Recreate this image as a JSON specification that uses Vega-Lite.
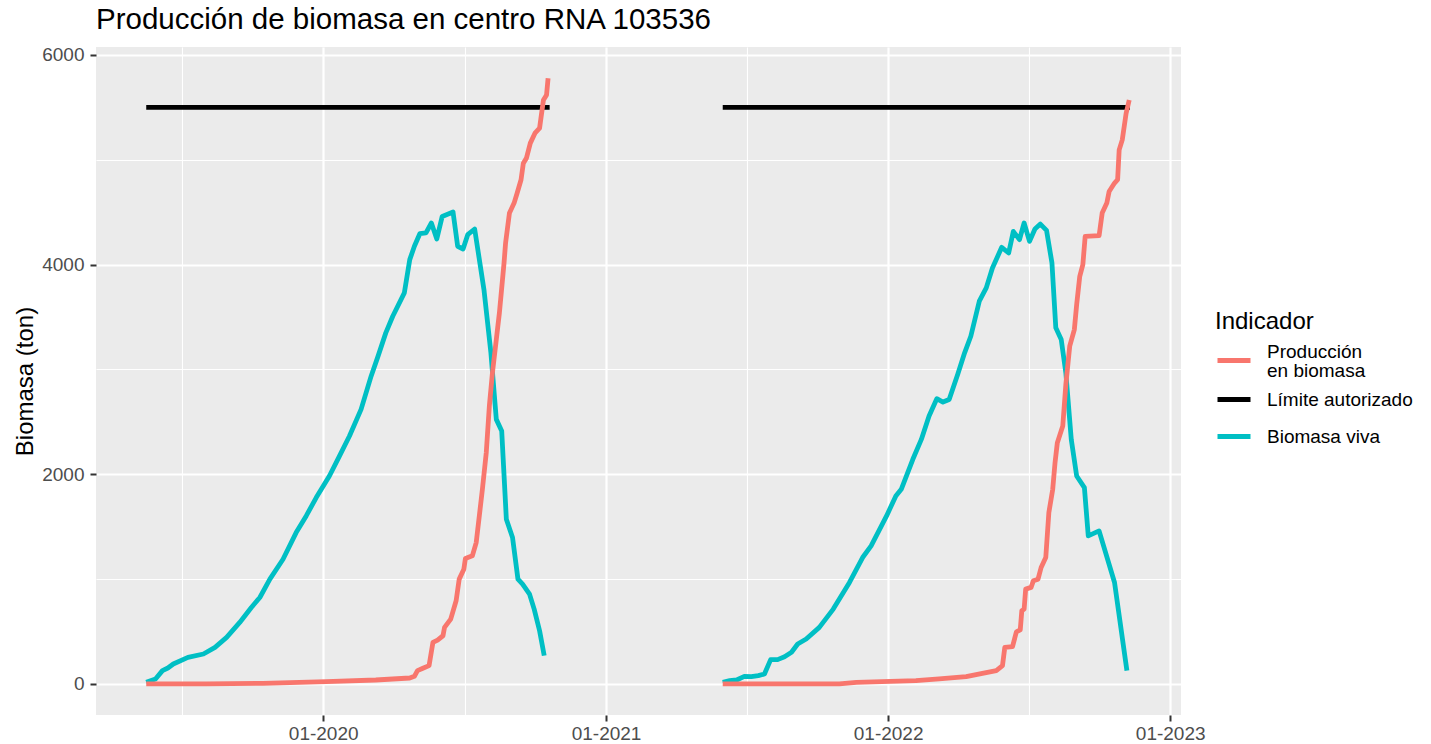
{
  "$schema": "https://vega.github.io/schema/vega-lite/v6.json",
  "width": 1085,
  "height": 668,
  "autosize": {"type": "none"},
  "padding": {"left": 96, "top": 47, "right": 250, "bottom": 29},
  "background": "white",
  "title": {"text": "Producción de biomasa en centro RNA 103536", "anchor": "start", "frame": "group", "fontSize": 29.5, "fontWeight": "normal", "color": "#000000", "font": "Liberation Sans", "offset": 10},
  "config": {"font": "Liberation Sans", "view": {"fill": "#EBEBEB", "stroke": null}},
  "data": {"values": [
    {"fecha": "2019-05-17", "valor": 5500, "indicador": "Límite autorizado", "ciclo": 1},
    {"fecha": "2020-10-20", "valor": 5500, "indicador": "Límite autorizado", "ciclo": 1},
    {"fecha": "2021-06-01", "valor": 5500, "indicador": "Límite autorizado", "ciclo": 2},
    {"fecha": "2022-11-10", "valor": 5500, "indicador": "Límite autorizado", "ciclo": 2},

    {"fecha": "2019-05-17", "valor": 16, "indicador": "Biomasa viva", "ciclo": 1},
    {"fecha": "2019-05-29", "valor": 48, "indicador": "Biomasa viva", "ciclo": 1},
    {"fecha": "2019-06-07", "valor": 127, "indicador": "Biomasa viva", "ciclo": 1},
    {"fecha": "2019-06-14", "valor": 152, "indicador": "Biomasa viva", "ciclo": 1},
    {"fecha": "2019-06-21", "valor": 190, "indicador": "Biomasa viva", "ciclo": 1},
    {"fecha": "2019-07-10", "valor": 254, "indicador": "Biomasa viva", "ciclo": 1},
    {"fecha": "2019-07-30", "valor": 286, "indicador": "Biomasa viva", "ciclo": 1},
    {"fecha": "2019-08-14", "valor": 349, "indicador": "Biomasa viva", "ciclo": 1},
    {"fecha": "2019-08-29", "valor": 444, "indicador": "Biomasa viva", "ciclo": 1},
    {"fecha": "2019-09-15", "valor": 587, "indicador": "Biomasa viva", "ciclo": 1},
    {"fecha": "2019-09-30", "valor": 730, "indicador": "Biomasa viva", "ciclo": 1},
    {"fecha": "2019-10-11", "valor": 825, "indicador": "Biomasa viva", "ciclo": 1},
    {"fecha": "2019-10-24", "valor": 1000, "indicador": "Biomasa viva", "ciclo": 1},
    {"fecha": "2019-11-10", "valor": 1190, "indicador": "Biomasa viva", "ciclo": 1},
    {"fecha": "2019-11-27", "valor": 1444, "indicador": "Biomasa viva", "ciclo": 1},
    {"fecha": "2019-12-10", "valor": 1603, "indicador": "Biomasa viva", "ciclo": 1},
    {"fecha": "2019-12-23", "valor": 1778, "indicador": "Biomasa viva", "ciclo": 1},
    {"fecha": "2020-01-09", "valor": 1984, "indicador": "Biomasa viva", "ciclo": 1},
    {"fecha": "2020-01-22", "valor": 2174, "indicador": "Biomasa viva", "ciclo": 1},
    {"fecha": "2020-02-04", "valor": 2365, "indicador": "Biomasa viva", "ciclo": 1},
    {"fecha": "2020-02-19", "valor": 2619, "indicador": "Biomasa viva", "ciclo": 1},
    {"fecha": "2020-03-03", "valor": 2936, "indicador": "Biomasa viva", "ciclo": 1},
    {"fecha": "2020-03-12", "valor": 3127, "indicador": "Biomasa viva", "ciclo": 1},
    {"fecha": "2020-03-22", "valor": 3349, "indicador": "Biomasa viva", "ciclo": 1},
    {"fecha": "2020-03-31", "valor": 3508, "indicador": "Biomasa viva", "ciclo": 1},
    {"fecha": "2020-04-15", "valor": 3730, "indicador": "Biomasa viva", "ciclo": 1},
    {"fecha": "2020-04-22", "valor": 4048, "indicador": "Biomasa viva", "ciclo": 1},
    {"fecha": "2020-04-28", "valor": 4175, "indicador": "Biomasa viva", "ciclo": 1},
    {"fecha": "2020-05-05", "valor": 4295, "indicador": "Biomasa viva", "ciclo": 1},
    {"fecha": "2020-05-13", "valor": 4302, "indicador": "Biomasa viva", "ciclo": 1},
    {"fecha": "2020-05-20", "valor": 4397, "indicador": "Biomasa viva", "ciclo": 1},
    {"fecha": "2020-05-27", "valor": 4245, "indicador": "Biomasa viva", "ciclo": 1},
    {"fecha": "2020-06-03", "valor": 4460, "indicador": "Biomasa viva", "ciclo": 1},
    {"fecha": "2020-06-17", "valor": 4502, "indicador": "Biomasa viva", "ciclo": 1},
    {"fecha": "2020-06-23", "valor": 4175, "indicador": "Biomasa viva", "ciclo": 1},
    {"fecha": "2020-06-30", "valor": 4149, "indicador": "Biomasa viva", "ciclo": 1},
    {"fecha": "2020-07-06", "valor": 4286, "indicador": "Biomasa viva", "ciclo": 1},
    {"fecha": "2020-07-15", "valor": 4340, "indicador": "Biomasa viva", "ciclo": 1},
    {"fecha": "2020-07-27", "valor": 3762, "indicador": "Biomasa viva", "ciclo": 1},
    {"fecha": "2020-08-05", "valor": 3159, "indicador": "Biomasa viva", "ciclo": 1},
    {"fecha": "2020-08-12", "valor": 2524, "indicador": "Biomasa viva", "ciclo": 1},
    {"fecha": "2020-08-19", "valor": 2413, "indicador": "Biomasa viva", "ciclo": 1},
    {"fecha": "2020-08-25", "valor": 1571, "indicador": "Biomasa viva", "ciclo": 1},
    {"fecha": "2020-09-02", "valor": 1397, "indicador": "Biomasa viva", "ciclo": 1},
    {"fecha": "2020-09-09", "valor": 1000, "indicador": "Biomasa viva", "ciclo": 1},
    {"fecha": "2020-09-15", "valor": 952, "indicador": "Biomasa viva", "ciclo": 1},
    {"fecha": "2020-09-24", "valor": 857, "indicador": "Biomasa viva", "ciclo": 1},
    {"fecha": "2020-09-30", "valor": 714, "indicador": "Biomasa viva", "ciclo": 1},
    {"fecha": "2020-10-07", "valor": 508, "indicador": "Biomasa viva", "ciclo": 1},
    {"fecha": "2020-10-13", "valor": 270, "indicador": "Biomasa viva", "ciclo": 1},

    {"fecha": "2021-06-01", "valor": 16, "indicador": "Biomasa viva", "ciclo": 2},
    {"fecha": "2021-06-10", "valor": 32, "indicador": "Biomasa viva", "ciclo": 2},
    {"fecha": "2021-06-19", "valor": 38, "indicador": "Biomasa viva", "ciclo": 2},
    {"fecha": "2021-06-29", "valor": 73, "indicador": "Biomasa viva", "ciclo": 2},
    {"fecha": "2021-07-08", "valor": 70, "indicador": "Biomasa viva", "ciclo": 2},
    {"fecha": "2021-07-17", "valor": 79, "indicador": "Biomasa viva", "ciclo": 2},
    {"fecha": "2021-07-25", "valor": 95, "indicador": "Biomasa viva", "ciclo": 2},
    {"fecha": "2021-08-02", "valor": 232, "indicador": "Biomasa viva", "ciclo": 2},
    {"fecha": "2021-08-11", "valor": 232, "indicador": "Biomasa viva", "ciclo": 2},
    {"fecha": "2021-08-20", "valor": 260, "indicador": "Biomasa viva", "ciclo": 2},
    {"fecha": "2021-08-29", "valor": 302, "indicador": "Biomasa viva", "ciclo": 2},
    {"fecha": "2021-09-06", "valor": 381, "indicador": "Biomasa viva", "ciclo": 2},
    {"fecha": "2021-09-17", "valor": 429, "indicador": "Biomasa viva", "ciclo": 2},
    {"fecha": "2021-10-04", "valor": 540, "indicador": "Biomasa viva", "ciclo": 2},
    {"fecha": "2021-10-22", "valor": 714, "indicador": "Biomasa viva", "ciclo": 2},
    {"fecha": "2021-11-12", "valor": 968, "indicador": "Biomasa viva", "ciclo": 2},
    {"fecha": "2021-11-29", "valor": 1206, "indicador": "Biomasa viva", "ciclo": 2},
    {"fecha": "2021-12-10", "valor": 1317, "indicador": "Biomasa viva", "ciclo": 2},
    {"fecha": "2021-12-30", "valor": 1603, "indicador": "Biomasa viva", "ciclo": 2},
    {"fecha": "2022-01-11", "valor": 1794, "indicador": "Biomasa viva", "ciclo": 2},
    {"fecha": "2022-01-18", "valor": 1857, "indicador": "Biomasa viva", "ciclo": 2},
    {"fecha": "2022-02-02", "valor": 2143, "indicador": "Biomasa viva", "ciclo": 2},
    {"fecha": "2022-02-13", "valor": 2333, "indicador": "Biomasa viva", "ciclo": 2},
    {"fecha": "2022-02-23", "valor": 2556, "indicador": "Biomasa viva", "ciclo": 2},
    {"fecha": "2022-03-05", "valor": 2721, "indicador": "Biomasa viva", "ciclo": 2},
    {"fecha": "2022-03-13", "valor": 2689, "indicador": "Biomasa viva", "ciclo": 2},
    {"fecha": "2022-03-21", "valor": 2714, "indicador": "Biomasa viva", "ciclo": 2},
    {"fecha": "2022-04-01", "valor": 2952, "indicador": "Biomasa viva", "ciclo": 2},
    {"fecha": "2022-04-10", "valor": 3159, "indicador": "Biomasa viva", "ciclo": 2},
    {"fecha": "2022-04-18", "valor": 3317, "indicador": "Biomasa viva", "ciclo": 2},
    {"fecha": "2022-04-29", "valor": 3651, "indicador": "Biomasa viva", "ciclo": 2},
    {"fecha": "2022-05-08", "valor": 3778, "indicador": "Biomasa viva", "ciclo": 2},
    {"fecha": "2022-05-16", "valor": 3968, "indicador": "Biomasa viva", "ciclo": 2},
    {"fecha": "2022-05-28", "valor": 4165, "indicador": "Biomasa viva", "ciclo": 2},
    {"fecha": "2022-06-06", "valor": 4111, "indicador": "Biomasa viva", "ciclo": 2},
    {"fecha": "2022-06-12", "valor": 4317, "indicador": "Biomasa viva", "ciclo": 2},
    {"fecha": "2022-06-20", "valor": 4238, "indicador": "Biomasa viva", "ciclo": 2},
    {"fecha": "2022-06-26", "valor": 4397, "indicador": "Biomasa viva", "ciclo": 2},
    {"fecha": "2022-07-03", "valor": 4222, "indicador": "Biomasa viva", "ciclo": 2},
    {"fecha": "2022-07-10", "valor": 4340, "indicador": "Biomasa viva", "ciclo": 2},
    {"fecha": "2022-07-17", "valor": 4387, "indicador": "Biomasa viva", "ciclo": 2},
    {"fecha": "2022-07-25", "valor": 4327, "indicador": "Biomasa viva", "ciclo": 2},
    {"fecha": "2022-08-01", "valor": 4016, "indicador": "Biomasa viva", "ciclo": 2},
    {"fecha": "2022-08-06", "valor": 3397, "indicador": "Biomasa viva", "ciclo": 2},
    {"fecha": "2022-08-13", "valor": 3286, "indicador": "Biomasa viva", "ciclo": 2},
    {"fecha": "2022-08-19", "valor": 2968, "indicador": "Biomasa viva", "ciclo": 2},
    {"fecha": "2022-08-26", "valor": 2333, "indicador": "Biomasa viva", "ciclo": 2},
    {"fecha": "2022-09-02", "valor": 1984, "indicador": "Biomasa viva", "ciclo": 2},
    {"fecha": "2022-09-12", "valor": 1873, "indicador": "Biomasa viva", "ciclo": 2},
    {"fecha": "2022-09-17", "valor": 1413, "indicador": "Biomasa viva", "ciclo": 2},
    {"fecha": "2022-10-01", "valor": 1460, "indicador": "Biomasa viva", "ciclo": 2},
    {"fecha": "2022-10-21", "valor": 968, "indicador": "Biomasa viva", "ciclo": 2},
    {"fecha": "2022-11-06", "valor": 127, "indicador": "Biomasa viva", "ciclo": 2},

    {"fecha": "2019-05-17", "valor": 0, "indicador": "Producción en biomasa", "ciclo": 1},
    {"fecha": "2019-08-03", "valor": 0, "indicador": "Producción en biomasa", "ciclo": 1},
    {"fecha": "2019-10-15", "valor": 6, "indicador": "Producción en biomasa", "ciclo": 1},
    {"fecha": "2020-01-05", "valor": 22, "indicador": "Producción en biomasa", "ciclo": 1},
    {"fecha": "2020-03-09", "valor": 38, "indicador": "Producción en biomasa", "ciclo": 1},
    {"fecha": "2020-04-22", "valor": 57, "indicador": "Producción en biomasa", "ciclo": 1},
    {"fecha": "2020-04-28", "valor": 73, "indicador": "Producción en biomasa", "ciclo": 1},
    {"fecha": "2020-05-02", "valor": 127, "indicador": "Producción en biomasa", "ciclo": 1},
    {"fecha": "2020-05-09", "valor": 150, "indicador": "Producción en biomasa", "ciclo": 1},
    {"fecha": "2020-05-17", "valor": 175, "indicador": "Producción en biomasa", "ciclo": 1},
    {"fecha": "2020-05-22", "valor": 397, "indicador": "Producción en biomasa", "ciclo": 1},
    {"fecha": "2020-05-28", "valor": 419, "indicador": "Producción en biomasa", "ciclo": 1},
    {"fecha": "2020-06-04", "valor": 460, "indicador": "Producción en biomasa", "ciclo": 1},
    {"fecha": "2020-06-06", "valor": 540, "indicador": "Producción en biomasa", "ciclo": 1},
    {"fecha": "2020-06-14", "valor": 619, "indicador": "Producción en biomasa", "ciclo": 1},
    {"fecha": "2020-06-21", "valor": 794, "indicador": "Producción en biomasa", "ciclo": 1},
    {"fecha": "2020-06-25", "valor": 1000, "indicador": "Producción en biomasa", "ciclo": 1},
    {"fecha": "2020-07-01", "valor": 1095, "indicador": "Producción en biomasa", "ciclo": 1},
    {"fecha": "2020-07-03", "valor": 1197, "indicador": "Producción en biomasa", "ciclo": 1},
    {"fecha": "2020-07-12", "valor": 1222, "indicador": "Producción en biomasa", "ciclo": 1},
    {"fecha": "2020-07-17", "valor": 1349, "indicador": "Producción en biomasa", "ciclo": 1},
    {"fecha": "2020-07-21", "valor": 1603, "indicador": "Producción en biomasa", "ciclo": 1},
    {"fecha": "2020-07-25", "valor": 1857, "indicador": "Producción en biomasa", "ciclo": 1},
    {"fecha": "2020-07-30", "valor": 2206, "indicador": "Producción en biomasa", "ciclo": 1},
    {"fecha": "2020-08-03", "valor": 2651, "indicador": "Producción en biomasa", "ciclo": 1},
    {"fecha": "2020-08-07", "valor": 2968, "indicador": "Producción en biomasa", "ciclo": 1},
    {"fecha": "2020-08-12", "valor": 3286, "indicador": "Producción en biomasa", "ciclo": 1},
    {"fecha": "2020-08-16", "valor": 3540, "indicador": "Producción en biomasa", "ciclo": 1},
    {"fecha": "2020-08-18", "valor": 3698, "indicador": "Producción en biomasa", "ciclo": 1},
    {"fecha": "2020-08-22", "valor": 4016, "indicador": "Producción en biomasa", "ciclo": 1},
    {"fecha": "2020-08-24", "valor": 4206, "indicador": "Producción en biomasa", "ciclo": 1},
    {"fecha": "2020-08-29", "valor": 4492, "indicador": "Producción en biomasa", "ciclo": 1},
    {"fecha": "2020-09-04", "valor": 4587, "indicador": "Producción en biomasa", "ciclo": 1},
    {"fecha": "2020-09-08", "valor": 4683, "indicador": "Producción en biomasa", "ciclo": 1},
    {"fecha": "2020-09-13", "valor": 4810, "indicador": "Producción en biomasa", "ciclo": 1},
    {"fecha": "2020-09-16", "valor": 4968, "indicador": "Producción en biomasa", "ciclo": 1},
    {"fecha": "2020-09-20", "valor": 5016, "indicador": "Producción en biomasa", "ciclo": 1},
    {"fecha": "2020-09-25", "valor": 5159, "indicador": "Producción en biomasa", "ciclo": 1},
    {"fecha": "2020-10-01", "valor": 5254, "indicador": "Producción en biomasa", "ciclo": 1},
    {"fecha": "2020-10-07", "valor": 5302, "indicador": "Producción en biomasa", "ciclo": 1},
    {"fecha": "2020-10-12", "valor": 5571, "indicador": "Producción en biomasa", "ciclo": 1},
    {"fecha": "2020-10-16", "valor": 5619, "indicador": "Producción en biomasa", "ciclo": 1},
    {"fecha": "2020-10-18", "valor": 5778, "indicador": "Producción en biomasa", "ciclo": 1},

    {"fecha": "2021-06-01", "valor": 0, "indicador": "Producción en biomasa", "ciclo": 2},
    {"fecha": "2021-10-30", "valor": 0, "indicador": "Producción en biomasa", "ciclo": 2},
    {"fecha": "2021-11-21", "valor": 16, "indicador": "Producción en biomasa", "ciclo": 2},
    {"fecha": "2022-02-06", "valor": 32, "indicador": "Producción en biomasa", "ciclo": 2},
    {"fecha": "2022-03-08", "valor": 48, "indicador": "Producción en biomasa", "ciclo": 2},
    {"fecha": "2022-04-12", "valor": 70, "indicador": "Producción en biomasa", "ciclo": 2},
    {"fecha": "2022-05-03", "valor": 102, "indicador": "Producción en biomasa", "ciclo": 2},
    {"fecha": "2022-05-21", "valor": 127, "indicador": "Producción en biomasa", "ciclo": 2},
    {"fecha": "2022-05-29", "valor": 175, "indicador": "Producción en biomasa", "ciclo": 2},
    {"fecha": "2022-06-01", "valor": 349, "indicador": "Producción en biomasa", "ciclo": 2},
    {"fecha": "2022-06-11", "valor": 356, "indicador": "Producción en biomasa", "ciclo": 2},
    {"fecha": "2022-06-16", "valor": 498, "indicador": "Producción en biomasa", "ciclo": 2},
    {"fecha": "2022-06-21", "valor": 517, "indicador": "Producción en biomasa", "ciclo": 2},
    {"fecha": "2022-06-23", "valor": 698, "indicador": "Producción en biomasa", "ciclo": 2},
    {"fecha": "2022-06-26", "valor": 714, "indicador": "Producción en biomasa", "ciclo": 2},
    {"fecha": "2022-06-28", "valor": 905, "indicador": "Producción en biomasa", "ciclo": 2},
    {"fecha": "2022-07-05", "valor": 921, "indicador": "Producción en biomasa", "ciclo": 2},
    {"fecha": "2022-07-08", "valor": 984, "indicador": "Producción en biomasa", "ciclo": 2},
    {"fecha": "2022-07-14", "valor": 1000, "indicador": "Producción en biomasa", "ciclo": 2},
    {"fecha": "2022-07-18", "valor": 1111, "indicador": "Producción en biomasa", "ciclo": 2},
    {"fecha": "2022-07-24", "valor": 1206, "indicador": "Producción en biomasa", "ciclo": 2},
    {"fecha": "2022-07-28", "valor": 1635, "indicador": "Producción en biomasa", "ciclo": 2},
    {"fecha": "2022-08-02", "valor": 1857, "indicador": "Producción en biomasa", "ciclo": 2},
    {"fecha": "2022-08-05", "valor": 2111, "indicador": "Producción en biomasa", "ciclo": 2},
    {"fecha": "2022-08-08", "valor": 2302, "indicador": "Producción en biomasa", "ciclo": 2},
    {"fecha": "2022-08-15", "valor": 2460, "indicador": "Producción en biomasa", "ciclo": 2},
    {"fecha": "2022-08-19", "valor": 2857, "indicador": "Producción en biomasa", "ciclo": 2},
    {"fecha": "2022-08-24", "valor": 3222, "indicador": "Producción en biomasa", "ciclo": 2},
    {"fecha": "2022-08-30", "valor": 3381, "indicador": "Producción en biomasa", "ciclo": 2},
    {"fecha": "2022-09-02", "valor": 3619, "indicador": "Producción en biomasa", "ciclo": 2},
    {"fecha": "2022-09-06", "valor": 3889, "indicador": "Producción en biomasa", "ciclo": 2},
    {"fecha": "2022-09-10", "valor": 4000, "indicador": "Producción en biomasa", "ciclo": 2},
    {"fecha": "2022-09-13", "valor": 4270, "indicador": "Producción en biomasa", "ciclo": 2},
    {"fecha": "2022-10-01", "valor": 4276, "indicador": "Producción en biomasa", "ciclo": 2},
    {"fecha": "2022-10-05", "valor": 4492, "indicador": "Producción en biomasa", "ciclo": 2},
    {"fecha": "2022-10-11", "valor": 4587, "indicador": "Producción en biomasa", "ciclo": 2},
    {"fecha": "2022-10-14", "valor": 4698, "indicador": "Producción en biomasa", "ciclo": 2},
    {"fecha": "2022-10-21", "valor": 4778, "indicador": "Producción en biomasa", "ciclo": 2},
    {"fecha": "2022-10-25", "valor": 4810, "indicador": "Producción en biomasa", "ciclo": 2},
    {"fecha": "2022-10-27", "valor": 5095, "indicador": "Producción en biomasa", "ciclo": 2},
    {"fecha": "2022-10-31", "valor": 5190, "indicador": "Producción en biomasa", "ciclo": 2},
    {"fecha": "2022-11-05", "valor": 5444, "indicador": "Producción en biomasa", "ciclo": 2},
    {"fecha": "2022-11-09", "valor": 5571, "indicador": "Producción en biomasa", "ciclo": 2}
  ]},
  "mark": {"type": "line", "strokeWidth": 4.8, "strokeJoin": "round", "strokeCap": "butt"},
  "encoding": {
    "x": {
      "field": "fecha", "type": "temporal",
      "scale": {"type": "utc", "domain": [{"year": 2019, "month": 3, "date": 13, "utc": true}, {"year": 2023, "month": 1, "date": 15, "utc": true}]},
      "axis": {
        "title": null,
        "values": [
          {"year": 2019, "month": 7, "date": 2, "utc": true},
          {"year": 2020, "month": 1, "date": 1, "utc": true},
          {"year": 2020, "month": 7, "date": 2, "utc": true},
          {"year": 2021, "month": 1, "date": 1, "utc": true},
          {"year": 2021, "month": 7, "date": 2, "utc": true},
          {"year": 2022, "month": 1, "date": 1, "utc": true},
          {"year": 2022, "month": 7, "date": 2, "utc": true},
          {"year": 2023, "month": 1, "date": 1, "utc": true}
        ],
        "labelExpr": "utcmonth(datum.value) === 0 ? utcFormat(datum.value, '%m-%Y') : ''",
        "labelOverlap": false,
        "labelFlush": false,
        "domain": false,
        "grid": true,
        "gridColor": "#FFFFFF",
        "gridWidth": {"condition": {"test": "utcmonth(datum.value) === 0", "value": 2.2}, "value": 1.1},
        "tickOpacity": {"condition": {"test": "utcmonth(datum.value) === 0", "value": 1}, "value": 0},
        "tickColor": "#333333",
        "tickWidth": 2,
        "tickSize": 6,
        "labelColor": "#4D4D4D",
        "labelFontSize": 19,
        "labelPadding": 3
      }
    },
    "y": {
      "field": "valor", "type": "quantitative",
      "scale": {"domain": [-296, 6076], "nice": false, "zero": false},
      "axis": {
        "title": "Biomasa (ton)",
        "titleFontSize": 24,
        "titleFontWeight": "normal",
        "titleColor": "#000000",
        "titlePadding": 4,
        "values": [0, 1000, 2000, 3000, 4000, 5000, 6000],
        "format": "d",
        "labelExpr": "datum.value % 2000 === 0 ? datum.label : ''",
        "labelOverlap": false,
        "domain": false,
        "grid": true,
        "gridColor": "#FFFFFF",
        "gridWidth": {"condition": {"test": "datum.value % 2000 === 0", "value": 2.2}, "value": 1.1},
        "tickOpacity": {"condition": {"test": "datum.value % 2000 === 0", "value": 1}, "value": 0},
        "tickColor": "#333333",
        "tickWidth": 2,
        "tickSize": 6,
        "labelColor": "#4D4D4D",
        "labelFontSize": 19,
        "labelPadding": 6
      }
    },
    "color": {
      "field": "indicador", "type": "nominal",
      "scale": {"domain": ["Producción en biomasa", "Límite autorizado", "Biomasa viva"], "range": ["#F8766D", "#000000", "#00BFC4"]},
      "legend": {
        "title": "Indicador",
        "orient": "none",
        "legendX": 1119,
        "legendY": 263,
        "padding": 0,
        "titleFontSize": 24,
        "titleFontWeight": "normal",
        "titleColor": "#000000",
        "titlePadding": 8,
        "labelFontSize": 19,
        "labelColor": "#000000",
        "labelExpr": "datum.label === 'Producción en biomasa' ? ['Producción', 'en biomasa'] : datum.label",
        "symbolType": "stroke",
        "symbolSize": 1089,
        "symbolStrokeWidth": 4.8,
        "labelOffset": 14,
        "clipHeight": 37,
        "rowPadding": 0,
        "encode": {
          "labels": {"update": {"dy": {"signal": "datum.value === 'Producción en biomasa' ? -9 : 0"}, "lineHeight": {"value": 19}}},
          "symbols": {"update": {"dy": {"value": 0}}}
        }
      }
    },
    "detail": {"field": "ciclo", "type": "nominal"}
  }
}
